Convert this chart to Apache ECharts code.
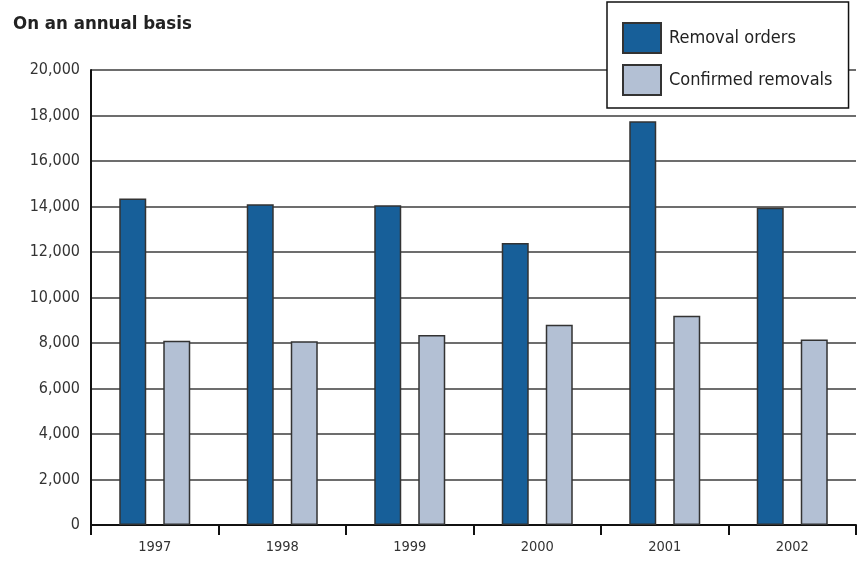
<!DOCTYPE html>
<html>
<head>
<meta charset="utf-8">
<script src="https://cdn.jsdelivr.net/npm/echarts@6/dist/echarts.min.js"></script>
<style>
  html, body { margin: 0; padding: 0; background: #fff; }
  #chart { width: 858px; height: 563px; }
</style>
</head>
<body>
<div id="chart"></div>
<script>
// Annual removal orders vs confirmed removals
const years = ['1997', '1998', '1999', '2000', '2001', '2002'];
const removalOrders = [14350, 14100, 14050, 12400, 17750, 13950];
const confirmedRemovals = [8100, 8080, 8350, 8800, 9200, 8150];
const yTicks = { min: 0, max: 20000, interval: 2000 };

const FONT = '"Liberation Sans Narrow", "DejaVu Sans Condensed", "Roboto Condensed", "Liberation Sans", sans-serif';

const chart = echarts.init(document.getElementById('chart'), null, { renderer: 'canvas' });

chart.setOption({
  animation: false,
  backgroundColor: '#ffffff',
  textStyle: { fontFamily: FONT },
  title: {
    text: 'On an annual basis',
    left: 8,
    top: 10,
    textStyle: { fontFamily: FONT, fontSize: 18.5, fontWeight: 'bold', color: '#222' }
  },
  legend: {
    orient: 'vertical',
    left: 607,
    top: 2,
    icon: 'rect',
    itemWidth: 38,
    itemHeight: 30,
    itemGap: 10,
    padding: [20, 16, 12, 15],
    backgroundColor: '#ffffff',
    borderColor: '#111',
    borderWidth: 1.5,
    borderRadius: 0,
    textStyle: { fontFamily: FONT, fontSize: 18, color: '#222', padding: [0, 0, 0, 3] },
    data: ['Removal orders', 'Confirmed removals']
  },
  grid: { left: 91, right: 2, top: 70, bottom: 38, outerBoundsMode: 'none' },
  xAxis: {
    type: 'category',
    data: years,
    boundaryGap: true,
    axisLine: { show: true, lineStyle: { color: '#111', width: 2 } },
    axisTick: { show: true, length: 10, lineStyle: { color: '#111', width: 2 } },
    axisLabel: { fontFamily: FONT, fontSize: 14.5, color: '#333', margin: 15 },
    splitLine: { show: false }
  },
  yAxis: {
    type: 'value',
    min: yTicks.min,
    max: yTicks.max,
    interval: yTicks.interval,
    axisLine: { show: true, lineStyle: { color: '#111', width: 2 } },
    axisTick: { show: false },
    axisLabel: {
      fontFamily: FONT, fontSize: 16, color: '#333', margin: 11,
      formatter: v => v.toLocaleString('en-US')
    },
    splitLine: { show: true, lineStyle: { color: '#3c3c3c', width: 1.5 } }
  },
  series: [
    {
      name: 'Removal orders',
      type: 'bar',
      data: removalOrders,
      barWidth: 27,
      barGap: '63%',
      itemStyle: { color: '#175F99', borderColor: '#333', borderWidth: 1.5 }
    },
    {
      name: 'Confirmed removals',
      type: 'bar',
      data: confirmedRemovals,
      barWidth: 27,
      itemStyle: { color: '#B3C0D4', borderColor: '#333', borderWidth: 1.5 }
    }
  ]
});
</script>
</body>
</html>
